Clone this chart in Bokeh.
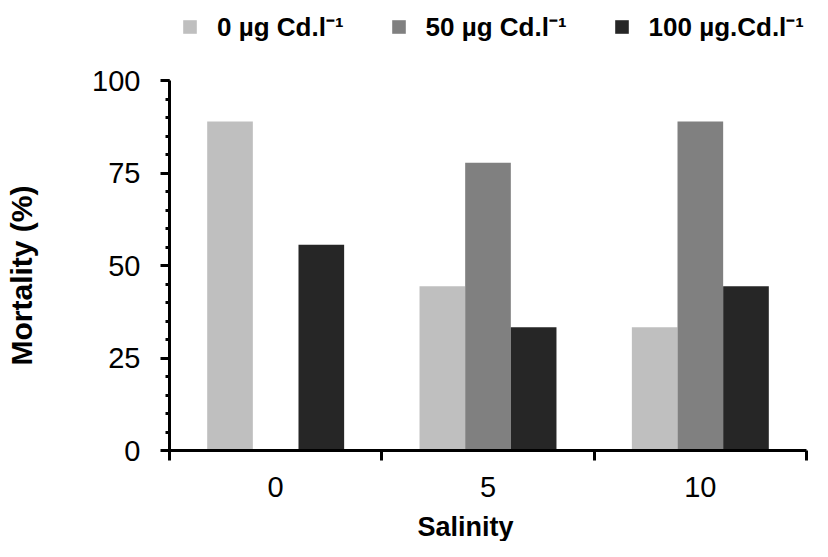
import math
from bokeh.plotting import figure
from bokeh.models import Range1d, FixedTicker, Legend, LegendItem, ColumnDataSource, Label
from bokeh.embed import file_html
from bokeh.resources import INLINE

# ---- data ----
salinity = ["0", "5", "10"]
series_labels = ["0 µg Cd.l⁻¹", "50 µg Cd.l⁻¹", "100 µg.Cd.l⁻¹"]
mort_0ug = [88.9, 44.4, 33.3]
mort_50ug = [0.0, 77.8, 88.9]
mort_100ug = [55.6, 33.3, 44.4]
y_ticks = [0, 25, 50, 75, 100]
y_minor = list(range(0, 101, 5))
x_title = "Salinity"
y_title = "Mortality (%)"

colors = ["#BFBFBF", "#808080", "#262626"]
FONT = "Liberation Sans"

# ---- layout (pixels) ----
W, H = 812, 541
AX_L, AX_R = 169, 806      # x-axis extent
AX_T, AX_B = 80, 450       # y=100 and y=0
px_x = (AX_R - AX_L) / 3.0
px_y = (AX_B - AX_T) / 100.0

p = figure(width=W, height=H, output_backend="svg", toolbar_location=None,
           x_range=Range1d(-AX_L / px_x, (W - AX_L) / px_x),
           y_range=Range1d(-(H - AX_B) / px_y, AX_B / px_y),
           min_border_left=0, min_border_right=0, min_border_top=0, min_border_bottom=0)
p.outline_line_color = None
p.xgrid.visible = False
p.ygrid.visible = False

bar_w = 0.215
offsets = [-bar_w, 0.0, bar_w]
centers = [i + 0.5 for i in range(len(salinity))]
renderers = []
for vals, off, col in zip([mort_0ug, mort_50ug, mort_100ug], offsets, colors):
    src = ColumnDataSource(dict(x=[c + off for c in centers], top=vals))
    r = p.vbar(x="x", top="top", width=bar_w, bottom=0, source=src,
               fill_color=col, line_color=None)
    renderers.append(r)

xa = p.xaxis[0]
xa.fixed_location = 0
xa.bounds = (0, 3)
xa.ticker = FixedTicker(ticks=centers, minor_ticks=[0, 1, 2, 3])
xa.major_label_overrides = {c: s for c, s in zip(centers, salinity)}
xa.major_tick_out = 0
xa.major_tick_in = 0
xa.minor_tick_out = 10
xa.minor_tick_in = 0
xa.minor_tick_line_width = 3
xa.axis_line_width = 3
xa.major_label_standoff = 16
xa.major_label_text_font = FONT
xa.major_label_text_font_size = "29px"
xa.major_label_text_color = "black"

ya = p.yaxis[0]
ya.fixed_location = 0
ya.bounds = (0, 100)
ya.ticker = FixedTicker(ticks=y_ticks, minor_ticks=y_minor)
ya.major_tick_out = 9
ya.major_tick_in = 0
ya.minor_tick_out = 4
ya.minor_tick_in = 0
ya.major_tick_line_width = 3
ya.minor_tick_line_width = 3
ya.axis_line_width = 3
ya.major_label_standoff = 20
ya.major_label_text_font = FONT
ya.major_label_text_font_size = "29px"
ya.major_label_text_color = "black"

p.add_layout(Label(x=465, y=H - 526, x_units="screen", y_units="screen", text=x_title,
                   text_align="center", text_baseline="middle",
                   text_font=FONT, text_font_style="bold", text_font_size="27px",
                   text_color="black"))
p.add_layout(Label(x=21, y=H - 275, x_units="screen", y_units="screen", text=y_title,
                   angle=math.pi / 2, text_align="center", text_baseline="middle",
                   text_font=FONT, text_font_style="bold", text_font_size="30px",
                   text_color="black"))

items = [LegendItem(label=lab, renderers=[r]) for lab, r in zip(series_labels, renderers)]
legend = Legend(items=items, location=(181, H - 44), orientation="horizontal",
                padding=0, margin=0, spacing=46, label_standoff=19,
                glyph_width=17, glyph_height=17,
                border_line_color=None, background_fill_alpha=0,
                label_text_font=FONT, label_text_font_style="bold",
                label_text_font_size="26px", label_text_color="black")
p.add_layout(legend)

open("out.html", "w").write(file_html(p, INLINE))
